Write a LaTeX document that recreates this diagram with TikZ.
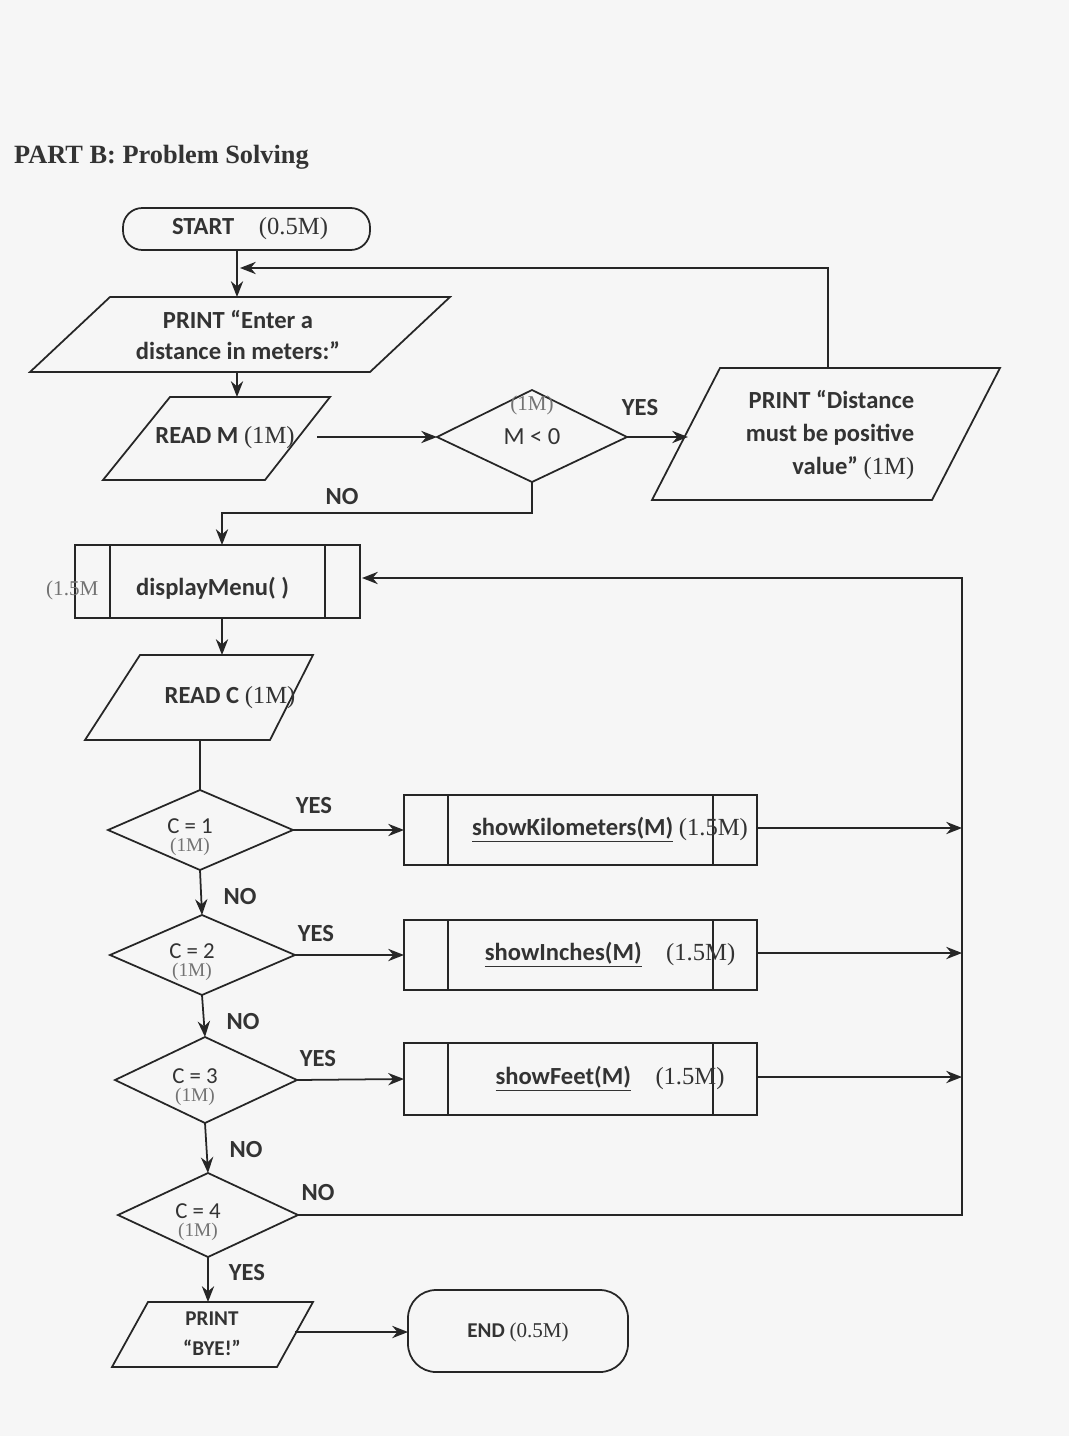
\documentclass[tikz,border=0pt]{standalone}
\usepackage{fontspec}
\setmainfont{Carlito}
\newfontfamily\mkfont{Liberation Serif}
\usetikzlibrary{arrows.meta}
\begin{document}
\begin{tikzpicture}[x=0.02cm,y=-0.02cm,
  ln/.style={line width=1pt,black!85},
  ar/.style={ln,-{Stealth[length=9pt,width=7pt]}},
  lab/.style={font=\fontsize{14}{16}\selectfont\bfseries,text=black!80},
  mk/.style={font=\mkfont\fontsize{12}{14}\selectfont,text=black!55}]
\useasboundingbox[fill=gray!7] (0,0) rectangle (1069,1436);
% title
\node[anchor=west,font=\mkfont\fontsize{15}{17}\selectfont\bfseries,text=black!80] (title) at (8,157) {PART B: Problem Solving};
% START
\draw[ln,rounded corners=11pt] (123,208) rectangle (370,250);
\node[lab] (start) at (250,229) {START\quad\textmd{\mkfont (0.5M)}};
\coordinate (sB) at (237,250);
% print enter
\draw[ln] (30,372)--(110,297)--(450,297)--(370,372)--cycle;
\node[lab,align=center] (p1) at (238,335) {PRINT “Enter a\\[2pt]distance in meters:”};
\coordinate (p1T) at (237,297); \coordinate (p1B) at (237,372);
\draw[ar] (sB)--(p1T);
% read M
\draw[ln] (103,480)--(170,397)--(330,397)--(265,480)--cycle;
\node[lab] (rm) at (225,438) {READ M \textmd{\mkfont(1M)}};
\coordinate (rmT) at (237,397); \coordinate (rmR) at (317,437);
\draw[ar] (p1B)--(rmT);
% diamond M<0
\draw[ln] (437,437)--(532,390)--(627,437)--(532,482)--cycle;
\node[lab] (d0) at (532,437) {\textmd{M < 0}};
\node[mk] at (532,405) {(1M)};
\coordinate (d0L) at (437,437); \coordinate (d0R) at (627,437); \coordinate (d0B) at (532,482);
\draw[ar] (rmR)--(d0L);
% print distance
\draw[ln] (652,500)--(720,368)--(1000,368)--(932,500)--cycle;
\node[lab,align=right] (pd) at (830,435) {PRINT “Distance\\[3pt]must be positive\\[3pt]value” \textmd{\mkfont(1M)}};
\coordinate (pdL) at (688,437); \coordinate (pdT) at (828,368);
\draw[ar] (d0R)--(pdL);
\node[lab] at (640,408) {YES};
\draw[ar] (pdT)--(828,268)--(240,268);
% NO path
\coordinate (dmT) at (222,545);
\draw[ar] (d0B)--(532,513)--(222,513)--(dmT);
\node[lab] at (342,497) {NO};
% displayMenu
\draw[ln] (75,545) rectangle (360,618);
\draw[ln] (110,545)--(110,618) (325,545)--(325,618);
\node[lab,anchor=west] (dm) at (130,588) {displayMenu( )};
\node[mk,anchor=west] at (40,590) {(1.5M};
\coordinate (dmB) at (222,618); \coordinate (dmR) at (362,578);
% read C
\draw[ln] (85,740)--(140,655)--(313,655)--(270,740)--cycle;
\node[lab] (rc) at (230,698) {READ C \textmd{\mkfont(1M)}};
\coordinate (rcT) at (222,655); \coordinate (rcB) at (200,740);
\draw[ar] (dmB)--(rcT);
% diamonds
\foreach \n/\t/\y/\xl/\xc/\xr/\h in {1/1/830/108/200/293/40, 2/2/955/110/202/295/40, 3/3/1080/115/205/297/43, 4/4/1215/118/208/298/42}{
  \draw[ln] (\xl,\y)--(\xc,\y-\h)--(\xr,\y)--(\xc,\y+\h)--cycle;
  \node[lab,font=\fontsize{13}{15}\selectfont] (c\n) at (\xc-10,\y-4) {C = \t};
  \node[mk,font=\mkfont\fontsize{11}{13}\selectfont] at (\xc-10,\y+17) {(1M)};
  \coordinate (c\n T) at (\xc,\y-\h); \coordinate (c\n B) at (\xc,\y+\h); \coordinate (c\n R) at (\xr,\y);
}
\draw[ln] (rcB)--(c1T);
\draw[ar] (c1B)--(c2T); \node[lab] at (240,897) {NO};
\draw[ar] (c2B)--(c3T); \node[lab] at (243,1022) {NO};
\draw[ar] (c3B)--(c4T); \node[lab] at (246,1150) {NO};
% process boxes
\foreach \n/\y/\t/\h in {1/830/{\underline{showKilometers(M)}\ \textmd{\mkfont(1.5M)}}/35, 2/955/{\underline{showInches(M)}\quad\textmd{\mkfont(1.5M)}}/35, 3/1079/{\underline{showFeet(M)}\quad\textmd{\mkfont(1.5M)}}/36}{
  \draw[ln] (404,\y-\h) rectangle (757,\y+\h);
  \draw[ln] (448,\y-\h)--(448,\y+\h) (713,\y-\h)--(713,\y+\h);
  \node[lab] (s\n) at (610,\y) {\t};
  \coordinate (s\n L) at (404,\y); \coordinate (s\n R) at (757,\y-2); \coordinate (e\n) at (962,\y-2);
  \draw[ar] (c\n R)--(s\n L);
  \draw[ar] (s\n R)--(e\n);
}
\node[lab] at (314,806) {YES};
\node[lab] at (316,934) {YES};
\node[lab] at (318,1059) {YES};
% loop back
\draw[ar] (c4R)--(962,1215)--(962,578)--(dmR);
\node[lab] at (318,1193) {NO};
% BYE
\draw[ln] (112,1367)--(148,1302)--(313,1302)--(277,1367)--cycle;
\node[lab,align=center,font=\fontsize{12}{14}\selectfont\bfseries] (bye) at (212,1334) {PRINT\\[3pt]“BYE!”};
\coordinate (byeT) at (208,1302); \coordinate (byeR) at (295,1332);
\draw[ar] (c4B)--(byeT); \node[lab] at (247,1273) {YES};
% END
\draw[ln,rounded corners=16pt] (408,1290) rectangle (628,1372);
\node[lab,font=\fontsize{12}{14}\selectfont\bfseries] (end) at (518,1332) {END \textmd{\mkfont(0.5M)}};
\draw[ar] (byeR)--(408,1332);
\end{tikzpicture}
\end{document}
